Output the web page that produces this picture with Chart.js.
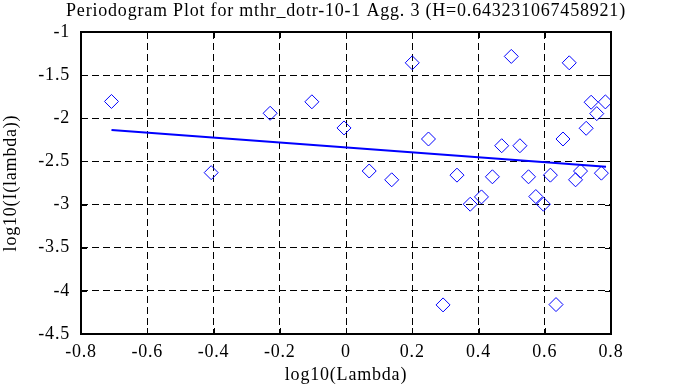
<!DOCTYPE html>
<html>
<head>
<meta charset="utf-8">
<script src="https://cdn.jsdelivr.net/npm/chart.js@4/dist/chart.umd.min.js"></script>
<style>
    html, body { margin: 0; padding: 0; background: #fff; }
</style>
</head>
<body>
<canvas id="periodogram-chart" width="673" height="387"></canvas>
<script>
const chartTitle = 'Periodogram Plot for mthr_dotr-10-1 Agg. 3 (H=0.643231067458921)';
const xAxisTitle = 'log10(Lambda)';
const yAxisTitle = 'log10(I(lambda))';

// periodogram points
const lambdaX = [-0.708, -0.407, -0.229, -0.103, -0.006, 0.070, 0.138, 0.200, 0.249, 0.293,
    0.335, 0.375, 0.409, 0.442, 0.470, 0.499, 0.525, 0.551, 0.573, 0.596,
    0.617, 0.634, 0.655, 0.674, 0.693, 0.708, 0.725, 0.740, 0.757, 0.771, 0.783];
const periodY = [-1.805, -2.630, -1.942, -1.809, -2.112, -2.611, -2.713, -1.357, -2.240, -4.163,
    -2.659, -2.996, -2.911, -2.678, -2.318, -1.283, -2.318, -2.678, -2.907, -2.996,
    -2.659, -4.159, -2.240, -1.357, -2.713, -2.612, -2.116, -1.814, -1.946, -2.636, -1.810];

// fitted line end points
const fitX = [-0.708, 0.785];
const fitY = [-2.136, -2.562];

const xTicks = [-0.8, -0.6, -0.4, -0.2, 0, 0.2, 0.4, 0.6, 0.8];
const xTickLabels = ['-0.8', '-0.6', '-0.4', '-0.2', '0', '0.2', '0.4', '0.6', '0.8'];
const yTicks = [-1, -1.5, -2, -2.5, -3, -3.5, -4, -4.5];
const yTickLabels = ['-1', '-1.5', '-2', '-2.5', '-3', '-3.5', '-4', '-4.5'];

const fontFamily = '"Liberation Serif", "DejaVu Serif", serif';
const fontSize = 18;
const blue = '#0000ff';

// the original font is a bit wider than Liberation Serif
const spacingPlugin = {
    id: 'spacing',
    beforeUpdate(chart) { chart.ctx.letterSpacing = '0.8px'; },
    beforeDraw(chart) { chart.ctx.letterSpacing = '0.8px'; }
};

// frame with inward ticks, plus the title centred over the plot
const framePlugin = {
    id: 'frame',
    afterDraw(chart) {
        const ctx = chart.ctx;
        const a = chart.chartArea;
        const sx = chart.scales.x, sy = chart.scales.y;
        ctx.save();
        ctx.strokeStyle = '#000';
        ctx.lineWidth = 1;
        ctx.beginPath();
        xTicks.forEach(function(v) {
            const px = Math.round(sx.getPixelForValue(v)) + 0.5;
            ctx.moveTo(px, a.bottom); ctx.lineTo(px, a.bottom - 6);
            ctx.moveTo(px, a.top); ctx.lineTo(px, a.top + 6);
        });
        yTicks.forEach(function(v) {
            const py = Math.round(sy.getPixelForValue(v)) + 0.5;
            ctx.moveTo(a.left, py); ctx.lineTo(a.left + 6, py);
            ctx.moveTo(a.right, py); ctx.lineTo(a.right - 6, py);
        });
        ctx.stroke();
        ctx.lineWidth = 2;
        ctx.strokeRect(a.left, a.top, a.right - a.left, a.bottom - a.top);

        ctx.fillStyle = '#000';
        ctx.font = fontSize + 'px ' + fontFamily;
        ctx.textAlign = 'center';
        ctx.textBaseline = 'alphabetic';
        ctx.fillText(chartTitle, (a.left + a.right) / 2, 15.5);
        ctx.restore();
    }
};

const points = lambdaX.map(function(x, i) { return {x: x, y: periodY[i]}; });
const fitLine = fitX.map(function(x, i) { return {x: x, y: fitY[i]}; });

const gridOpts = {
    color: '#000',
    lineWidth: 1,
    drawTicks: false
};

new Chart(document.getElementById('periodogram-chart').getContext('2d'), {
    type: 'scatter',
    data: {
        datasets: [{
            label: 'fit',
            type: 'line',
            data: fitLine,
            borderColor: blue,
            borderWidth: 2,
            pointRadius: 0,
            fill: false
        }, {
            label: 'periodogram',
            data: points,
            pointStyle: 'rectRot',
            pointRadius: 7,
            pointHoverRadius: 7,
            borderColor: blue,
            borderWidth: 1,
            backgroundColor: 'rgba(0,0,0,0)'
        }]
    },
    options: {
        responsive: false,
        animation: false,
        layout: { padding: { top: 32, right: 62, left: 0, bottom: 0 } },
        plugins: {
            legend: { display: false },
            title: { display: false },
            tooltip: { enabled: false }
        },
        scales: {
            x: {
                type: 'linear',
                min: -0.8,
                max: 0.8,
                afterBuildTicks: function(s) { s.ticks = xTicks.map(function(v) { return {value: v}; }); },
                afterFit: function(s) { s.height = 53; },
                grid: gridOpts,
                border: { display: false, dash: [7, 4] },
                ticks: {
                    color: '#000',
                    padding: 7,
                    maxRotation: 0,
                    font: { family: fontFamily, size: fontSize },
                    callback: function(v, i) { return xTickLabels[i]; }
                },
                title: {
                    display: true,
                    text: xAxisTitle,
                    color: '#000',
                    padding: { top: 0, bottom: 1 },
                    font: { family: fontFamily, size: fontSize }
                }
            },
            y: {
                type: 'linear',
                min: -4.5,
                max: -1,
                afterBuildTicks: function(s) { s.ticks = yTicks.map(function(v) { return {value: v}; }); },
                afterFit: function(s) { s.width = 81; },
                grid: gridOpts,
                border: { display: false, dash: [7, 4] },
                ticks: {
                    color: '#000',
                    padding: 11,
                    font: { family: fontFamily, size: fontSize },
                    callback: function(v, i) { return yTickLabels[i]; }
                },
                title: {
                    display: true,
                    text: yAxisTitle,
                    color: '#000',
                    padding: { top: 0, bottom: 0 },
                    font: { family: fontFamily, size: fontSize }
                }
            }
        }
    },
    plugins: [spacingPlugin, framePlugin]
});
</script>
</body>
</html>
